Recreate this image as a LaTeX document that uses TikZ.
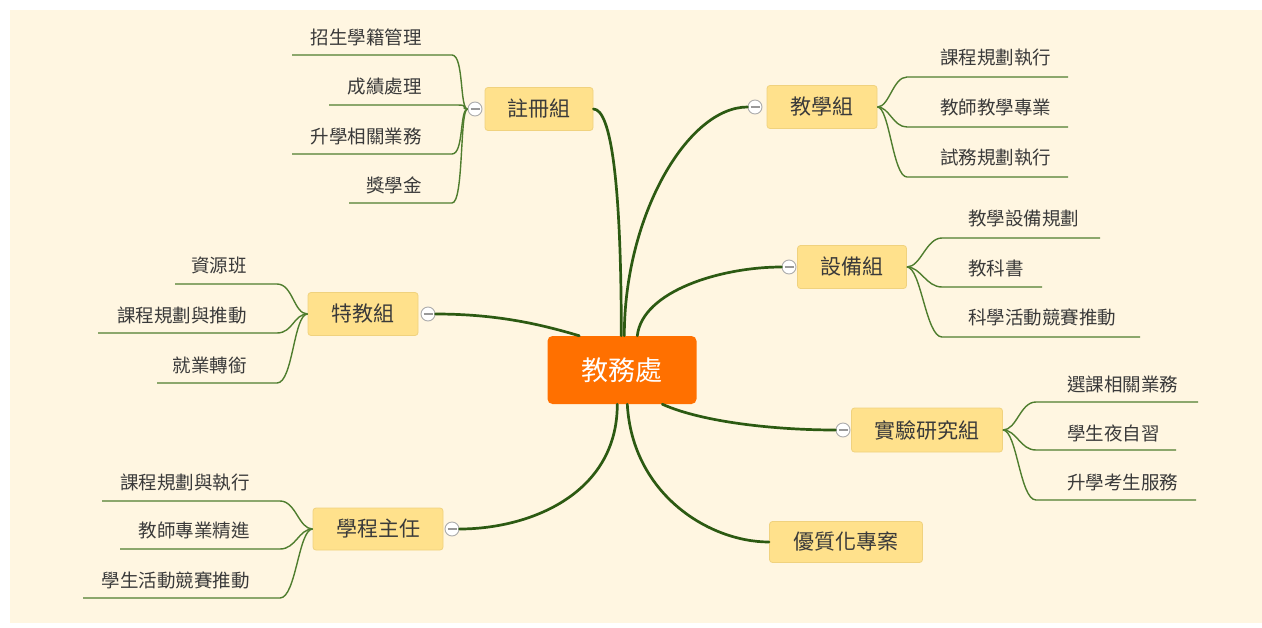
\documentclass[tikz,border=0pt]{standalone}
\usepackage{fontspec}
\newfontfamily\cjk{Noto Sans CJK TC}
\usetikzlibrary{calc}
\definecolor{cream}{HTML}{FFF6E1}
\definecolor{nodefill}{HTML}{FFE18C}
\definecolor{bord}{HTML}{F0D27E}
\definecolor{txt}{HTML}{3A3A3A}
\definecolor{orangec}{HTML}{FF7000}
\definecolor{maingreen}{HTML}{2C5A12}
\definecolor{subgreen}{HTML}{4F7D2E}
\tikzset{
  branch/.style={draw=bord, fill=nodefill, rounded corners=3pt, minimum height=43pt, text=txt, font=\cjk\fontsize{21}{21}\selectfont, inner sep=0pt, line width=0.8pt},
  leaf/.style={text=txt, font=\cjk\fontsize{18.5}{19}\selectfont, inner sep=0pt},
  mainline/.style={draw=maingreen, line width=2.7pt, line cap=round},
  subline/.style={draw=subgreen, line width=1.4pt},
  toggle/.style={circle, draw=gray!65, fill=white, minimum size=14pt, inner sep=0pt, line width=0.9pt,
    path picture={\draw[gray!80, line width=1.1pt] ([xshift=-4.5pt]path picture bounding box.center) -- ([xshift=4.5pt]path picture bounding box.center);}}
}
\begin{document}
\begin{tikzpicture}[x=1pt,y=-1pt]
\useasboundingbox (0,0) rectangle (1262,627);
\fill[white] (0,0) rectangle (1262,627);
\fill[cream] (10,10) rectangle (1262,623);

% central node
\node[fill=orangec, rounded corners=5pt, minimum width=149pt, minimum height=68pt, text=white, font=\cjk\fontsize{27}{27}\selectfont, inner sep=0pt] (c) at (622,370) {教務處};

% branch nodes
\node[branch, minimum width=108pt] (zc) at (539,109) {註冊組};
\node[toggle] (czc) at (475,109) {};
\node[branch, minimum width=110pt] (jx) at (822,107) {教學組};
\node[toggle] (cjx) at (755,107) {};
\node[branch, minimum width=109pt] (sb) at (852,267) {設備組};
\node[toggle] (csb) at (789,267) {};
\node[branch, minimum width=151pt, minimum height=44pt] (sy) at (927,430) {實驗研究組};
\node[toggle] (csy) at (843,430) {};
\node[branch, minimum width=153pt, minimum height=41pt] (yz) at (846,542) {優質化專案};
\node[branch, minimum width=110pt] (tj) at (363,314) {特教組};
\node[toggle] (ctj) at (428,314) {};
\node[branch, minimum width=130pt, minimum height=42pt] (xc) at (378,529) {學程主任};
\node[toggle] (cxc) at (452,529) {};

% main connectors
\draw[mainline] (zc.east) .. controls +(18,0) and +(0,-150) .. ([xshift=74pt]c.north west);
\draw[mainline] ([xshift=77pt]c.north west) .. controls +(0,-120) and +(-60,0) .. (cjx.west);
\draw[mainline] ([xshift=90pt]c.north west) .. controls +(5,-45) and +(-60,0) .. (csb.west);
\draw[mainline] (ctj.east) .. controls +(60,0) and +(-40,-12) .. ([xshift=32pt]c.north west);
\draw[mainline] ([xshift=115pt]c.south west) .. controls +(40,18) and +(-60,0) .. (csy.west);
\draw[mainline] ([xshift=80pt]c.south west) .. controls +(5,90) and +(-60,0) .. (yz.west);
\draw[mainline] ([xshift=70pt]c.south west) .. controls +(0,90) and +(70,0) .. (cxc.east);

% 註冊組 leaves
\coordinate (z1s) at (452,55);  \coordinate (z1e) at (292,55);
\coordinate (z2s) at (458,105); \coordinate (z2e) at (329,105);
\coordinate (z3s) at (452,154); \coordinate (z3e) at (292,154);
\coordinate (z4s) at (452,203); \coordinate (z4e) at (349,203);
\foreach \i in {1,...,4}{
  \draw[subline] (czc.west) .. controls +(-8,0) and +(12,0) .. (z\i s) -- (z\i e);
}
\node[leaf, anchor=east] (z1) at (422,37) {招生學籍管理};
\node[leaf, anchor=east] (z2) at (422,87) {成績處理};
\node[leaf, anchor=east] (z3) at (422,136) {升學相關業務};
\node[leaf, anchor=east] (z4) at (422,185) {獎學金};

% 教學組 leaves
\coordinate (j1s) at (907,77);  \coordinate (j1e) at (1068,77);
\coordinate (j2s) at (907,127); \coordinate (j2e) at (1068,127);
\coordinate (j3s) at (907,177); \coordinate (j3e) at (1068,177);
\foreach \i in {1,2,3}{
  \draw[subline] (jx.east) .. controls +(12,0) and +(-14,0) .. (j\i s) -- (j\i e);
}
\node[leaf, anchor=west] (j1) at (940,57) {課程規劃執行};
\node[leaf, anchor=west] (j2) at (940,107) {教師教學專業};
\node[leaf, anchor=west] (j3) at (940,157) {試務規劃執行};

% 設備組 leaves
\coordinate (s1s) at (942,238); \coordinate (s1e) at (1100,238);
\coordinate (s2s) at (942,287); \coordinate (s2e) at (1042,287);
\coordinate (s3s) at (942,337); \coordinate (s3e) at (1140,337);
\foreach \i in {1,2,3}{
  \draw[subline] (sb.east) .. controls +(14,0) and +(-16,0) .. (s\i s) -- (s\i e);
}
\node[leaf, anchor=west] (s1) at (968,218) {教學設備規劃};
\node[leaf, anchor=west] (s2) at (968,268) {教科書};
\node[leaf, anchor=west] (s3) at (968,317) {科學活動競賽推動};

% 實驗研究組 leaves
\coordinate (y1s) at (1036,402); \coordinate (y1e) at (1198,402);
\coordinate (y2s) at (1036,450); \coordinate (y2e) at (1176,450);
\coordinate (y3s) at (1036,500); \coordinate (y3e) at (1196,500);
\foreach \i in {1,2,3}{
  \draw[subline] (sy.east) .. controls +(14,0) and +(-16,0) .. (y\i s) -- (y\i e);
}
\node[leaf, anchor=west] (y1) at (1067,384) {選課相關業務};
\node[leaf, anchor=west] (y2) at (1067,433) {學生夜自習};
\node[leaf, anchor=west] (y3) at (1067,482) {升學考生服務};

% 特教組 leaves
\coordinate (t1s) at (277,284); \coordinate (t1e) at (175,284);
\coordinate (t2s) at (277,333); \coordinate (t2e) at (98,333);
\coordinate (t3s) at (277,383); \coordinate (t3e) at (157,383);
\foreach \i in {1,2,3}{
  \draw[subline] (tj.west) .. controls +(-14,0) and +(16,0) .. (t\i s) -- (t\i e);
}
\node[leaf, anchor=east] (t1) at (247,265) {資源班};
\node[leaf, anchor=east] (t2) at (247,315) {課程規劃與推動};
\node[leaf, anchor=east] (t3) at (247,365) {就業轉銜};

% 學程主任 leaves
\coordinate (x1s) at (280,501); \coordinate (x1e) at (102,501);
\coordinate (x2s) at (280,549); \coordinate (x2e) at (120,549);
\coordinate (x3s) at (280,598); \coordinate (x3e) at (83,598);
\foreach \i in {1,2,3}{
  \draw[subline] (xc.west) .. controls +(-14,0) and +(16,0) .. (x\i s) -- (x\i e);
}
\node[leaf, anchor=east] (x1) at (250,482) {課程規劃與執行};
\node[leaf, anchor=east] (x2) at (250,531) {教師專業精進};
\node[leaf, anchor=east] (x3) at (250,580) {學生活動競賽推動};
\end{tikzpicture}
\end{document}
